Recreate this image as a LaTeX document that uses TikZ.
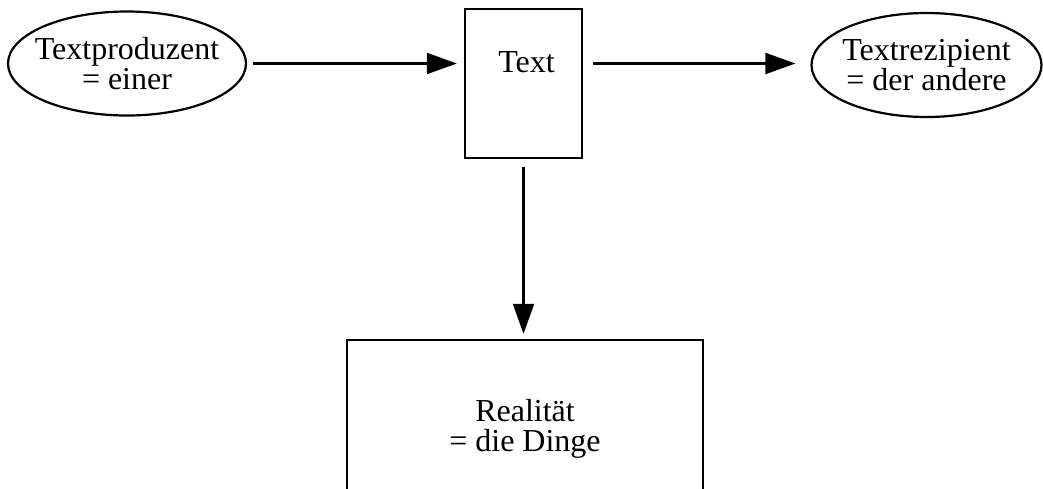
\documentclass[tikz,border=0pt]{standalone}
\usepackage{fontspec}
\setmainfont{Liberation Serif}
\usepackage{tikz}
\usetikzlibrary{arrows.meta}
\usetikzlibrary{backgrounds}
\usetikzlibrary{shapes,shapes.geometric}
\pgfdeclarelayer{edgelayer}
\pgfdeclarelayer{nodelayer}
\pgfsetlayers{background,edgelayer,nodelayer,main}
\tikzstyle{none}=[inner sep=0mm]
\tikzstyle{oval}=[draw=black,line width=1.1pt,shape=ellipse,inner sep=0pt,align=center]
\tikzstyle{box}=[draw=black,line width=1.2pt,shape=rectangle,inner sep=0pt,align=center]
\tikzstyle{diredge}=[line width=1.1pt,-{Triangle[length=15pt,width=10.5pt]}]

\begin{document}
\begin{tikzpicture}[x=0.5pt,y=0.5pt,font={\fontsize{16}{15}\selectfont}]
	\clip (0,0) rectangle (1043,-488);
	\begin{pgfonlayer}{nodelayer}
		\node [style=oval, minimum width=119pt, minimum height=52pt, label={[style=none, align=center]center:Textproduzent\\= einer}] (0) at (127, -63.5) {};
		\node [style=box, minimum width=58.5pt, minimum height=74.5pt, label={[style=none, anchor=north, xshift=1.5pt, yshift=-21.5pt]north:Text}] (1) at (523.5, -83.5) {};
		\node [style=oval, minimum width=115pt, minimum height=52pt, label={[style=none, align=center]center:Textrezipient\\= der andere}] (2) at (926.5, -65) {};
		\node [style=box, minimum width=178pt, minimum height=89pt] (3) at (525, -429) {Realität\\= die Dinge};
	\end{pgfonlayer}
	\begin{pgfonlayer}{edgelayer}
		\draw [style=diredge, shorten <=3pt, shorten >=3.5pt] (0) to (0 -| 1.west);
		\draw [style=diredge, shorten <=5pt, shorten >=7.5pt] (1.east |- 0) to (2.west |- 0);
		\draw [style=diredge, shorten <=4pt, shorten >=2.5pt] (1) to (1 |- 3.north);
	\end{pgfonlayer}
\end{tikzpicture}
\end{document}
